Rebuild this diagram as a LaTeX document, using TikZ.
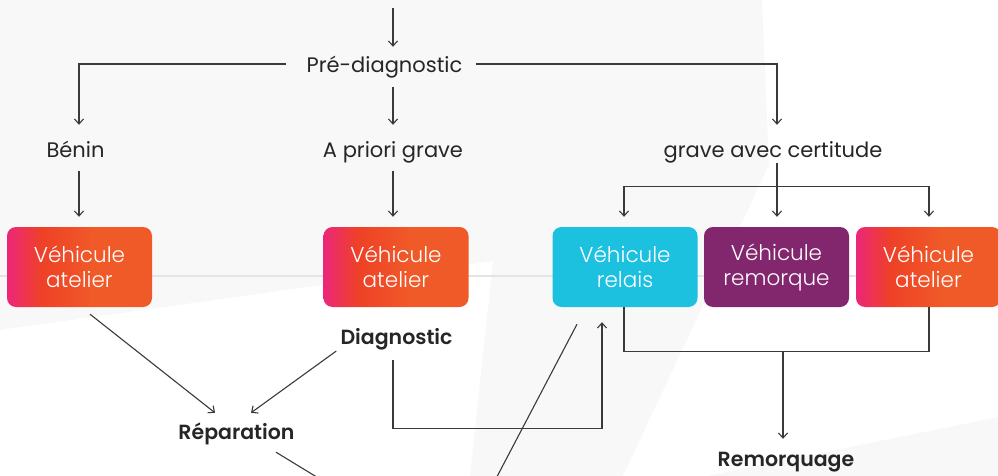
\documentclass[tikz,border=0pt]{standalone}
\usepackage{fontspec}
\setmainfont{Poppins}
\newfontfamily\popsemi{Poppins SemiBold}
\newfontfamily\poplight{Poppins Light}
\usetikzlibrary{arrows.meta,calc}
\definecolor{bggray}{HTML}{F8F8F8}
\definecolor{gridline}{HTML}{E4E4E4}
\definecolor{cyanbox}{HTML}{1DC1E0}
\definecolor{purplebox}{HTML}{82276E}
\definecolor{gpink}{HTML}{EC2779}
\definecolor{gred}{HTML}{EE4127}
\definecolor{gorange}{HTML}{F05A28}
\definecolor{ink}{HTML}{262626}
\definecolor{linec}{HTML}{3A3A3A}
\pgfdeclarehorizontalshading{atelgrad}{100bp}{color(0bp)=(gpink); color(25bp)=(gpink); color(37bp)=(gred); color(55bp)=(gorange); color(75bp)=(gorange); color(100bp)=(gorange)}
\tikzset{
  lbl/.style={anchor=base, inner sep=0pt, text height=16pt, text depth=5pt, text=ink, font=\fontsize{21}{25}\selectfont},
  blbl/.style={lbl, font=\popsemi\fontsize{20.5}{24}\selectfont},
  vbox/.style={minimum width=145pt, minimum height=80pt, rounded corners=9pt, inner sep=0pt, text=white, align=center, font=\poplight\fontsize{21.5}{25}\selectfont},
  atel/.style={vbox, shade, shading=atelgrad},
  conn/.style={draw=linec, line width=1.1pt},
  arr/.style={conn, -{Straight Barb[length=5pt,width=9pt]}},
}
\begin{document}
\begin{tikzpicture}[x=1pt, y=-1pt]
\useasboundingbox (0,0) rectangle (998,476);
% background
\fill[bggray] (0,0) rectangle (998,476);
\fill[white] (0,330) -- (493,261) -- (470,476) -- (0,476) -- cycle;
\fill[white] (762,0) -- (998,0) -- (998,417) -- (702,477) -- (623,476) -- (769,165) -- cycle;
\draw[gridline, line width=1.5pt] (0,276) -- (998,276);

% labels
\node[lbl] (pre) at (384.5,72.7) {Pré-diagnostic};
\node[lbl] (benin) at (75.5,157.3) {Bénin};
\node[lbl] (apriori) at (393,157.3) {A priori grave};
\node[lbl] (grave) at (773,157.3) {grave avec certitude};
\node[blbl] (diag) at (396.5,344) {Diagnostic};
\node[blbl] (rep) at (236.5,439) {Réparation};
\node[blbl] (remq) at (786,466.7) {Remorquage};

% boxes
\node[atel] (box1) at (79.5,267) {Véhicule\\atelier};
\node[atel] (box2) at (396,267) {Véhicule\\atelier};
\node[vbox, fill=cyanbox] (relais) at (625,267) {Véhicule\\relais};
\node[vbox, fill=purplebox] (remorque) at (776.5,267) {Véhicule\\remorque};
\node[atel] (box3) at (928.5,267) {Véhicule\\atelier};

% free ends
\coordinate (topin) at (393,8);
\coordinate (repout) at (338,490);
\coordinate (diagout) at (490,490);

% connectors
\draw[arr] (topin) -- ([shift={(8.5,-9.7)}]pre.north);
\draw[arr] ([shift={(-20,-3.2)}]pre.west) -| ([shift={(3.5,-16.3)}]benin.north);
\draw[arr] ([shift={(13,-3.2)}]pre.east) -| ([shift={(4,-16.3)}]grave.north);
\draw[arr] ([shift={(8.5,9.3)}]pre.south) -- ([shift={(0,-16.3)}]apriori.north);
\draw[arr] ([shift={(3.5,8.7)}]benin.south) -- ([shift={(-0.5,-10)}]box1.north);
\draw[arr] ([shift={(0,8.7)}]apriori.south) -- ([shift={(-3,-10)}]box2.north);
\draw[arr] ([shift={(4,0)}]grave.south) -- ([shift={(0.5,-10)}]remorque.north);
\draw[arr] ([shift={(4,24)}]grave.south) -| ([shift={(-1,-10)}]relais.north);
\draw[arr] ([shift={(4,24)}]grave.south) -| ([shift={(0.5,-10)}]box3.north);
\draw[arr] ([shift={(10.5,7)}]box1.south) -- ([shift={(-21.5,-10)}]rep.north);
\draw[arr] ([shift={(-4,12.5)}]diag.west) -- ([shift={(14.5,-10)}]rep.north);
\draw[conn] ([shift={(39.5,8)}]rep.south) -- (repout);
\draw[arr] ([shift={(-3.5,11)}]diag.south) |- ([shift={(-23,121)}]relais.south) -- ([shift={(-23,15)}]relais.south);
\draw[conn] ([shift={(-48,17)}]relais.south) -- (diagout);
\draw[conn] ([shift={(-1,0)}]relais.south) -- ++(0,44) -| ([shift={(0.5,0)}]box3.south);
\draw[arr] ([shift={(-3,-99.7)}]remq.north) -- ([shift={(-3,-11.7)}]remq.north);
\end{tikzpicture}
\end{document}
